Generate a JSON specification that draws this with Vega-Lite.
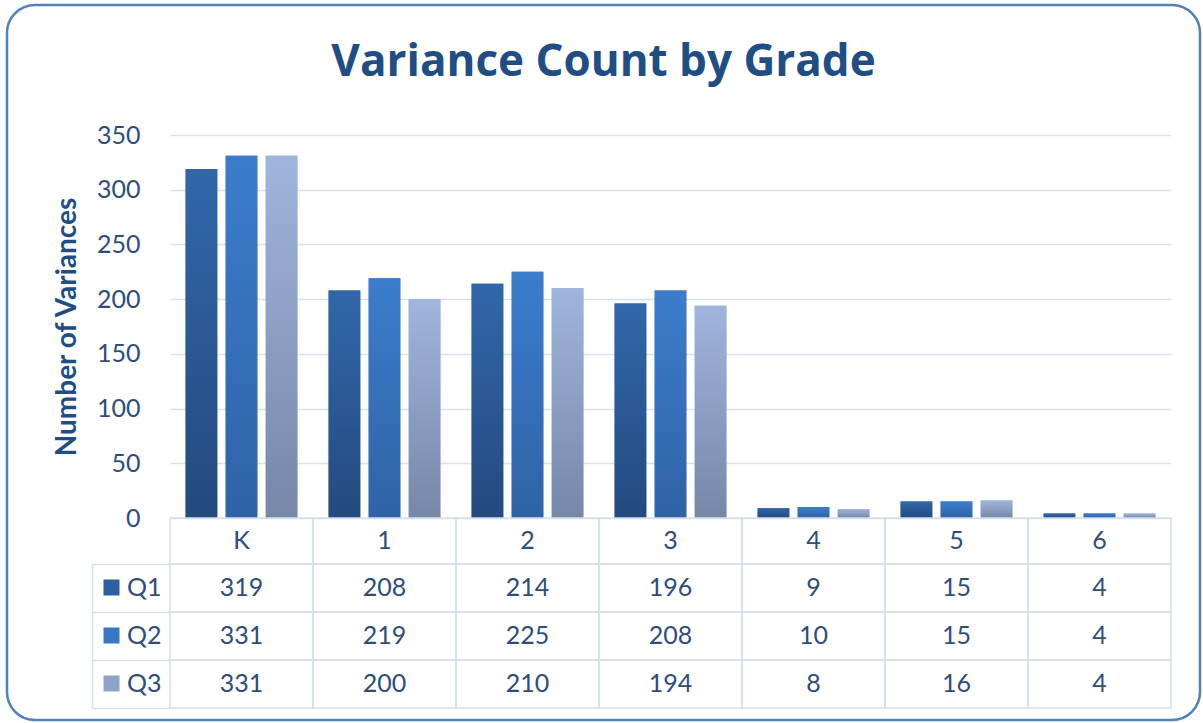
{
  "$schema": "https://vega.github.io/schema/vega-lite/v6.json",
  "width": 1193,
  "height": 715,
  "autosize": {"type": "none"},
  "padding": {"left": 7, "top": 5, "right": 3, "bottom": 3},
  "background": "white",
  "title": {"text": "Variance Count by Grade", "font": "Open Sans", "fontSize": 44, "fontWeight": "bold", "color": "#1f4e85", "anchor": "middle", "frame": "group", "offset": -80},
  "config": {"font": "Lato", "view": {"stroke": "#4f81bd", "strokeWidth": 2.5, "cornerRadius": 28}},
  "datasets": {
    "counts": [
      {"grade": "K", "series": "Q1", "value": 319}, {"grade": "K", "series": "Q2", "value": 331}, {"grade": "K", "series": "Q3", "value": 331},
      {"grade": "1", "series": "Q1", "value": 208}, {"grade": "1", "series": "Q2", "value": 219}, {"grade": "1", "series": "Q3", "value": 200},
      {"grade": "2", "series": "Q1", "value": 214}, {"grade": "2", "series": "Q2", "value": 225}, {"grade": "2", "series": "Q3", "value": 210},
      {"grade": "3", "series": "Q1", "value": 196}, {"grade": "3", "series": "Q2", "value": 208}, {"grade": "3", "series": "Q3", "value": 194},
      {"grade": "4", "series": "Q1", "value": 9}, {"grade": "4", "series": "Q2", "value": 10}, {"grade": "4", "series": "Q3", "value": 8},
      {"grade": "5", "series": "Q1", "value": 15}, {"grade": "5", "series": "Q2", "value": 15}, {"grade": "5", "series": "Q3", "value": 16},
      {"grade": "6", "series": "Q1", "value": 4}, {"grade": "6", "series": "Q2", "value": 4}, {"grade": "6", "series": "Q3", "value": 4}
    ],
    "grades": [{"grade": "K"}, {"grade": "1"}, {"grade": "2"}, {"grade": "3"}, {"grade": "4"}, {"grade": "5"}, {"grade": "6"}]
  },
  "resolve": {"scale": {"y": "independent"}},
  "layer": [
    {
      "data": {"name": "counts"},
      "mark": {"type": "bar"},
      "encoding": {
        "x": {"field": "grade", "type": "nominal", "scale": {"domain": ["K", "1", "2", "3", "4", "5", "6"], "range": [163, 1164], "paddingInner": 0, "paddingOuter": 0}, "axis": null},
        "xOffset": {"field": "series", "type": "nominal", "scale": {"domain": ["Q1", "Q2", "Q3"], "paddingInner": 0.21, "paddingOuter": 0.39}},
        "y": {"field": "value", "type": "quantitative", "scale": {"domain": [0, 350], "range": [513, 130], "nice": false},
          "axis": {"orient": "left", "offset": -163, "values": [0, 50, 100, 150, 200, 250, 300, 350], "domain": false, "grid": false, "ticks": true, "tickSize": -1001, "tickColor": "#d5e2f3", "tickWidth": 1.5, "labelPadding": 1031, "labelFont": "Lato", "labelFontSize": 25, "labelColor": "#2e4d7b", "title": "Number of Variances", "titleFont": "Lato", "titleFontSize": 28, "titleFontWeight": "bold", "titleColor": "#1f4e85", "titlePadding": 15, "zindex": 0}},
        "color": {"field": "series", "type": "nominal", "scale": {"domain": ["Q1", "Q2", "Q3"], "range": ["#2d5e9e", "#3877c4", "#8ea3c9"]},
          "legend": {"orient": "none", "legendX": 92, "legendY": 570, "title": null, "direction": "vertical", "symbolType": "square", "symbolSize": 256, "symbolStrokeWidth": 0, "labelFont": "Lato", "labelFontSize": 25, "labelColor": "#2e4d7b", "labelOffset": 3, "rowPadding": 22, "padding": 0}}
      }
    },
    {
      "data": {"name": "counts"},
      "transform": [{"filter": "datum.series === 'Q1'"}],
      "mark": {"type": "bar", "color": {"gradient": "linear", "x1": 0, "y1": 0, "x2": 0, "y2": 1, "stops": [{"offset": 0, "color": "#3167a9"}, {"offset": 1, "color": "#244a7f"}]}},
      "encoding": {
        "x": {"field": "grade", "type": "nominal", "axis": null},
        "xOffset": {"field": "series", "type": "nominal"},
        "y": {"field": "value", "type": "quantitative", "scale": {"domain": [0, 350], "range": [513, 130], "nice": false}, "axis": null}
      }
    },
    {
      "data": {"name": "counts"},
      "transform": [{"filter": "datum.series === 'Q2'"}],
      "mark": {"type": "bar", "color": {"gradient": "linear", "x1": 0, "y1": 0, "x2": 0, "y2": 1, "stops": [{"offset": 0, "color": "#3b7dcc"}, {"offset": 1, "color": "#2f63a5"}]}},
      "encoding": {
        "x": {"field": "grade", "type": "nominal", "axis": null},
        "xOffset": {"field": "series", "type": "nominal"},
        "y": {"field": "value", "type": "quantitative", "scale": {"domain": [0, 350], "range": [513, 130], "nice": false}, "axis": null}
      }
    },
    {
      "data": {"name": "counts"},
      "transform": [{"filter": "datum.series === 'Q3'"}],
      "mark": {"type": "bar", "color": {"gradient": "linear", "x1": 0, "y1": 0, "x2": 0, "y2": 1, "stops": [{"offset": 0, "color": "#a0b5dd"}, {"offset": 1, "color": "#7687a8"}]}},
      "encoding": {
        "x": {"field": "grade", "type": "nominal", "axis": null},
        "xOffset": {"field": "series", "type": "nominal"},
        "y": {"field": "value", "type": "quantitative", "scale": {"domain": [0, 350], "range": [513, 130], "nice": false}, "axis": null}
      }
    },
    {
      "data": {"name": "counts"},
      "mark": {"type": "rect", "fill": "transparent", "stroke": "#d3e0f1", "strokeWidth": 1.5},
      "encoding": {
        "x": {"field": "grade", "type": "nominal", "axis": null},
        "y": {"field": "series", "type": "nominal", "scale": {"domain": ["Q1", "Q2", "Q3"], "range": [559, 703], "paddingInner": 0, "paddingOuter": 0},
          "axis": {"orient": "left", "offset": -163, "bandPosition": 1, "tickExtra": true, "tickSize": 78, "tickColor": "#d3e0f1", "tickWidth": 1.5, "labels": false, "domain": false, "grid": false, "title": null, "zindex": 0}}
      }
    },
    {
      "data": {"name": "counts"},
      "mark": {"type": "text", "font": "Lato", "fontSize": 25, "color": "#2e4d7b"},
      "encoding": {
        "x": {"field": "grade", "type": "nominal", "axis": null},
        "y": {"field": "series", "type": "nominal", "scale": {"domain": ["Q1", "Q2", "Q3"], "range": [559, 703], "paddingInner": 0, "paddingOuter": 0},
          "axis": {"orient": "left", "offset": -85, "domain": true, "domainColor": "#d3e0f1", "domainWidth": 1.5, "ticks": false, "labels": false, "grid": false, "title": null}},
        "text": {"field": "value", "type": "quantitative"}
      }
    },
    {
      "data": {"name": "grades"},
      "mark": {"type": "rect", "fill": "transparent", "stroke": "#d3e0f1", "strokeWidth": 1.5},
      "encoding": {
        "x": {"field": "grade", "type": "nominal", "axis": null},
        "y": {"datum": "hdr", "type": "nominal", "scale": {"domain": ["hdr"], "range": [513, 559], "paddingInner": 0, "paddingOuter": 0}, "axis": null}
      }
    },
    {
      "data": {"name": "grades"},
      "mark": {"type": "text", "font": "Lato", "fontSize": 25, "color": "#2e4d7b"},
      "encoding": {
        "x": {"field": "grade", "type": "nominal", "axis": null},
        "y": {"datum": "hdr", "type": "nominal", "scale": {"domain": ["hdr"], "range": [513, 559], "paddingInner": 0, "paddingOuter": 0}, "axis": null},
        "text": {"field": "grade", "type": "nominal"}
      }
    }
  ]
}
